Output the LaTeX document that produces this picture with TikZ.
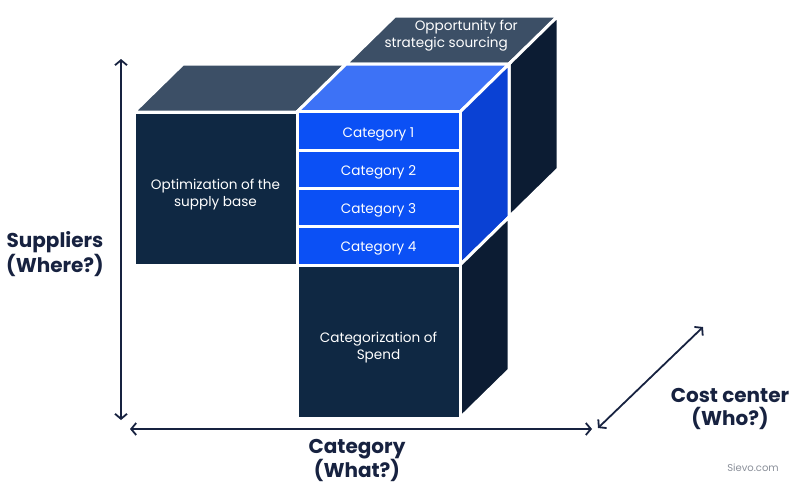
\documentclass[tikz,border=0pt]{standalone}
\usepackage{fontspec}
\setmainfont{Poppins}
\usetikzlibrary{arrows.meta}
\definecolor{navy}{HTML}{0F2843}
\definecolor{slate}{HTML}{3C4F66}
\definecolor{darkside}{HTML}{0C1C33}
\definecolor{catblue}{HTML}{0B50F5}
\definecolor{bluetop}{HTML}{3D72F6}
\definecolor{blueside}{HTML}{0A41D4}
\definecolor{axiscol}{HTML}{172240}
\definecolor{wmark}{HTML}{8A8F99}
\begin{document}
\begin{tikzpicture}[x=1pt,y=-1pt,
  face/.style={draw=white,line width=3pt,line join=miter},
  boxtext/.style={text=white,align=center,font=\fontsize{13.6}{17.5}\selectfont},
  frontbox/.style={face,fill=navy,minimum width=163pt,minimum height=153pt,inner sep=0pt},
  catbox/.style={face,fill=catblue,minimum width=163pt,minimum height=38.25pt,inner sep=0pt},
  axis/.style={draw=axiscol,line width=1.8pt,{Straight Barb[length=5pt,width=12pt]}-{Straight Barb[length=5pt,width=12pt]}},
  axlabel/.style={text=axiscol,align=center,font=\bfseries\fontsize{20}{22.5}\selectfont}]
\useasboundingbox (0,0) rectangle (800,485);
% back box
\draw[face,fill=slate] (346,64) -- (509,64) -- (558,16) -- (395,16) -- cycle;
\draw[face,fill=darkside] (509,64) -- (558,16) -- (558,169) -- (509,217) -- cycle;
\node[boxtext,anchor=base east,inner sep=0pt] (opp1) at (518,30.5) {Opportunity for};
\node[boxtext,anchor=base east,inner sep=0pt] (opp2) at (508,47) {strategic sourcing};
% left box
\draw[face,fill=slate] (134,112) -- (297,112) -- (346,64) -- (183,64) -- cycle;
\node[frontbox,label={[boxtext,yshift=-6pt]center:{Optimization of the\\supply base}}] (opt) at (215.5,188.5) {};
% blue cube
\draw[face,fill=bluetop] (297,112) -- (460,112) -- (509,64) -- (346,64) -- cycle;
\draw[face,fill=blueside] (460,112) -- (509,64) -- (509,217) -- (460,265) -- cycle;
\node[catbox,label={[boxtext,yshift=-3pt]center:Category 1}] (c1) at (378.5,131.1) {};
\node[catbox,label={[boxtext,yshift=-3pt]center:Category 2}] (c2) at (378.5,169.4) {};
\node[catbox,label={[boxtext,yshift=-3pt]center:Category 3}] (c3) at (378.5,207.6) {};
\node[catbox,label={[boxtext,yshift=-3pt]center:Category 4}] (c4) at (378.5,245.9) {};
% bottom box
\draw[face,fill=darkside] (460,265) -- (509,217) -- (509,370) -- (460,418) -- cycle;
\node[frontbox,label={[boxtext,yshift=-6pt]center:{Categorization of\\Spend}}] (spend) at (378.5,341.5) {};
% axes
\coordinate (vtop) at (121,59);
\coordinate (vbot) at (121,420);
\coordinate (hl) at (130,429);
\coordinate (hr) at (592,429);
\coordinate (dl) at (598,428);
\coordinate (du) at (703,327);
\draw[axis] (vtop) -- (vbot);
\draw[axis] (hl) -- (hr);
\draw[axis] (dl) -- (du);
\node[axlabel] (sup) at (55,254) {Suppliers\\(Where?)};
\node[axlabel] (cat) at (357,460.5) {Category\\(What?)};
\node[axlabel] (cost) at (730,409) {Cost center\\(Who?)};
\node[text=wmark,font=\fontsize{10}{12}\selectfont] (sievo) at (753,468) {Sievo.com};
\end{tikzpicture}
\end{document}
